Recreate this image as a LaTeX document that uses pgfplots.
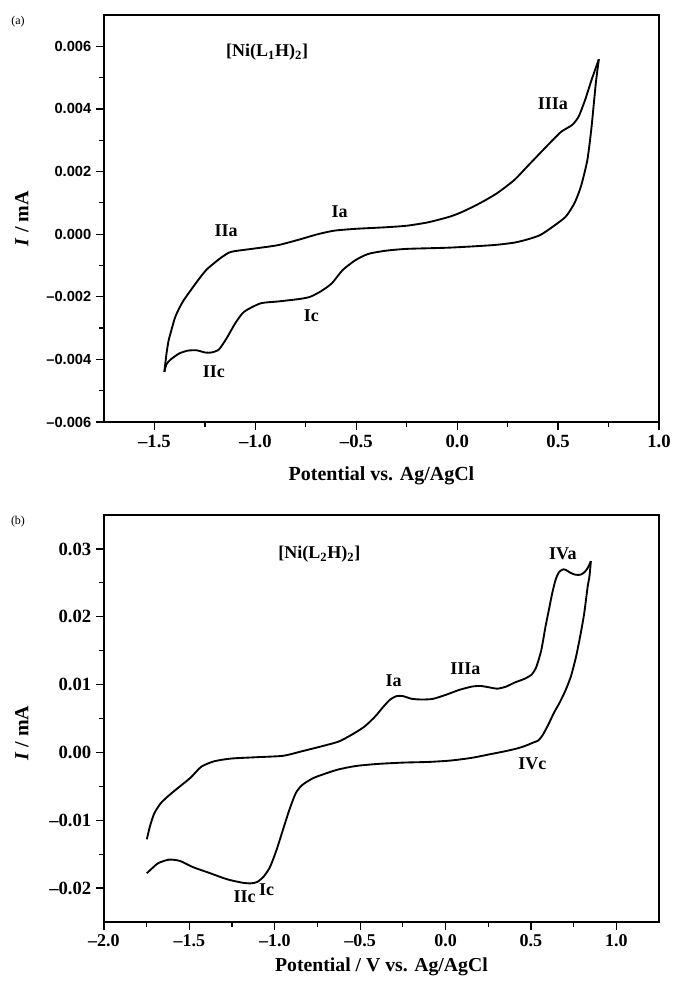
\documentclass[border=0pt]{standalone}
\usepackage{fontspec}
\setmainfont{Liberation Serif}
\newfontfamily\arialfont{Liberation Sans}
\usepackage{pgfplots}
\pgfplotsset{compat=1.18}

% panel (a), anodic (upper) branch
\pgfplotstableread{
x y
-1.451 -0.00440
-1.440 -0.00380
-1.430 -0.00340
-1.420 -0.00316
-1.400 -0.00270
-1.380 -0.00240
-1.354 -0.00210
-1.310 -0.00170
-1.271 -0.00136
-1.240 -0.00112
-1.205 -0.00093
-1.170 -0.00075
-1.131 -0.00059
-1.100 -0.00054
-0.994 -0.00045
-0.887 -0.00035
-0.781 -0.00017
-0.696 -0.00001
-0.611 0.00011
-0.504 0.00017
-0.355 0.00022
-0.249 0.00027
-0.143 0.00038
-0.036 0.00056
0.028 0.00072
0.113 0.00099
0.198 0.00131
0.283 0.00173
0.347 0.00216
0.411 0.00259
0.474 0.00301
0.517 0.00328
0.570 0.00349
0.602 0.00376
0.634 0.00429
0.666 0.00493
0.702 0.00559
}\cvaup
% panel (a), cathodic (lower) branch
\pgfplotstableread{
x y
0.702 0.00559
0.687 0.00483
0.666 0.00344
0.645 0.00237
0.613 0.00152
0.581 0.00099
0.538 0.00056
0.474 0.00024
0.411 -0.00003
0.347 -0.00017
0.283 -0.00027
0.177 -0.00035
-0.036 -0.00043
-0.249 -0.00047
-0.355 -0.00053
-0.440 -0.00063
-0.504 -0.00083
-0.568 -0.00115
-0.621 -0.00157
-0.674 -0.00182
-0.728 -0.00200
-0.781 -0.00207
-0.887 -0.00215
-0.974 -0.00221
-1.056 -0.00248
-1.100 -0.00285
-1.140 -0.00330
-1.180 -0.00368
-1.217 -0.00378
-1.249 -0.00378
-1.291 -0.00371
-1.334 -0.00372
-1.377 -0.00381
-1.419 -0.00400
-1.440 -0.00415
-1.451 -0.00440
}\cvalo

% panel (b), anodic (upper) branch
\pgfplotstableread{
x y
-1.749 -0.0128
-1.731 -0.0109
-1.706 -0.0090
-1.668 -0.0075
-1.618 -0.0063
-1.555 -0.0050
-1.492 -0.0037
-1.430 -0.0021
-1.354 -0.0013
-1.254 -0.0009
-1.103 -0.0007
-0.952 -0.0005
-0.852 0.0001
-0.726 0.0009
-0.626 0.0016
-0.550 0.0026
-0.475 0.0038
-0.412 0.0053
-0.362 0.0068
-0.324 0.0078
-0.286 0.0083
-0.249 0.0083
-0.198 0.0079
-0.136 0.0078
-0.073 0.0079
0.003 0.0085
0.078 0.0092
0.153 0.0097
0.204 0.0098
0.254 0.0096
0.304 0.0094
0.354 0.0097
0.405 0.0103
0.467 0.0109
0.505 0.0115
0.530 0.0125
0.560 0.0150
0.585 0.0185
0.605 0.0210
0.625 0.0235
0.645 0.0255
0.665 0.0266
0.690 0.0270
0.705 0.0269
0.730 0.0265
0.760 0.0262
0.790 0.0262
0.815 0.0266
0.835 0.0273
0.851 0.0282
}\cvbup
% panel (b), cathodic (lower) branch
\pgfplotstableread{
x y
0.851 0.0282
0.843 0.0260
0.832 0.0244
0.812 0.0205
0.792 0.0176
0.765 0.0142
0.734 0.0112
0.700 0.0090
0.665 0.0072
0.634 0.0058
0.600 0.0040
0.565 0.0024
0.540 0.0017
0.518 0.0015
0.470 0.0010
0.421 0.0006
0.354 0.0002
0.254 -0.0003
0.153 -0.0008
0.028 -0.0012
-0.098 -0.0014
-0.249 -0.0015
-0.400 -0.0017
-0.525 -0.0020
-0.626 -0.0025
-0.701 -0.0031
-0.776 -0.0038
-0.839 -0.0048
-0.877 -0.0060
-0.915 -0.0085
-0.952 -0.0114
-0.990 -0.0144
-1.028 -0.0169
-1.065 -0.0183
-1.103 -0.0191
-1.141 -0.0193
-1.191 -0.0192
-1.279 -0.0187
-1.379 -0.0178
-1.480 -0.0169
-1.555 -0.0160
-1.618 -0.0158
-1.681 -0.0163
-1.719 -0.0171
-1.749 -0.0178
}\cvblo

\pgfplotsset{
  cvstyle/.style={
    scale only axis,
    width=416.25pt, height=305.25pt,
    tick align=outside, tick pos=left,
    major tick length=6pt, minor tick length=3.5pt,
    axis line style={line width=1pt},
    every tick/.style={line width=0.9pt, black},
    scaled ticks=false,
    clip=false,
  },
  cvline/.style={black, line width=1.4pt, line join=round, smooth, tension=0.4},
}
\tikzset{lbl/.style={font=\bfseries\fontsize{13.5}{14}\selectfont}}

\begin{document}
\begin{tikzpicture}
\useasboundingbox (0pt,0pt) rectangle (504.75pt,-739.5pt);
\node[font=\fontsize{9}{10}\selectfont] at (13.5pt,-16.5pt) {(a)};
\node[font=\fontsize{9}{10}\selectfont] at (13.5pt,-391.5pt) {(b)};

\begin{axis}[cvstyle,
  at={(78pt,-11.25pt)}, anchor=north west,
  xmin=-1.75, xmax=1.0, ymin=-0.006, ymax=0.007,
  xtick={-1.5,-1.0,-0.5,0,0.5,1.0},
  xticklabels={–1.5,–1.0,–0.5,0.0,0.5,1.0},
  minor x tick num=1,
  ytick={-0.006,-0.004,-0.002,0,0.002,0.004,0.006},
  yticklabels={–0.006,–0.004,–0.002,0.000,0.002,0.004,0.006},
  minor y tick num=1,
  xticklabel style={font=\bfseries\fontsize{14}{15}\selectfont},
  yticklabel style={font=\arialfont\bfseries\fontsize{11}{12}\selectfont},
  xlabel={Potential vs. Ag/AgCl},
  xlabel style={font=\bfseries\fontsize{15}{16}\selectfont, at={(axis description cs:0.5,-0.133)}, anchor=center},
  ylabel={\textit{I} / mA},
  ylabel style={font=\bfseries\fontsize{15}{16}\selectfont, at={(axis description cs:-0.148,0.5)}, anchor=center},
]
\addplot[cvline] table[x=x,y=y] {\cvaup};
\addplot[cvline] table[x=x,y=y] {\cvalo};
\node[lbl] at (axis cs:-0.942,0.0058) {[Ni(L\textsubscript{1}H)\textsubscript{2}]};
\node[lbl] at (axis cs:0.474,0.00417) {IIIa};
\node[lbl] at (axis cs:-0.583,0.00072) {Ia};
\node[lbl] at (axis cs:-1.145,0.0001) {IIa};
\node[lbl] at (axis cs:-0.723,-0.00259) {Ic};
\node[lbl] at (axis cs:-1.206,-0.0044) {IIc};
\end{axis}

\begin{axis}[cvstyle,
  at={(78pt,-386.25pt)}, anchor=north west,
  xmin=-2.0, xmax=1.25, ymin=-0.025, ymax=0.035,
  xtick={-2.0,-1.5,-1.0,-0.5,0,0.5,1.0},
  xticklabels={–2.0,–1.5,–1.0,–0.5,0.0,0.5,1.0},
  minor x tick num=1,
  ytick={-0.02,-0.01,0,0.01,0.02,0.03},
  yticklabels={–0.02,–0.01,0.00,0.01,0.02,0.03},
  minor y tick num=1,
  xticklabel style={font=\bfseries\fontsize{13.5}{14}\selectfont},
  yticklabel style={font=\bfseries\fontsize{14}{15}\selectfont},
  xlabel={Potential / V vs. Ag/AgCl},
  xlabel style={font=\bfseries\fontsize{14.8}{16}\selectfont, at={(axis description cs:0.5,-0.11)}, anchor=center},
  ylabel={\textit{I} / mA},
  ylabel style={font=\bfseries\fontsize{15}{16}\selectfont, at={(axis description cs:-0.148,0.464)}, anchor=center},
]
\addplot[cvline] table[x=x,y=y] {\cvbup};
\addplot[cvline] table[x=x,y=y] {\cvblo};
\node[lbl] at (axis cs:-0.739,0.02916) {[Ni(L\textsubscript{2}H)\textsubscript{2}]};
\node[lbl] at (axis cs:0.687,0.0293) {IVa};
\node[lbl] at (axis cs:0.116,0.01228) {IIIa};
\node[lbl] at (axis cs:-0.304,0.01056) {Ia};
\node[lbl] at (axis cs:0.509,-0.00160) {IVc};
\node[lbl] at (axis cs:-1.176,-0.02133) {IIc};
\node[lbl] at (axis cs:-1.048,-0.02025) {Ic};
\end{axis}
\end{tikzpicture}
\end{document}
